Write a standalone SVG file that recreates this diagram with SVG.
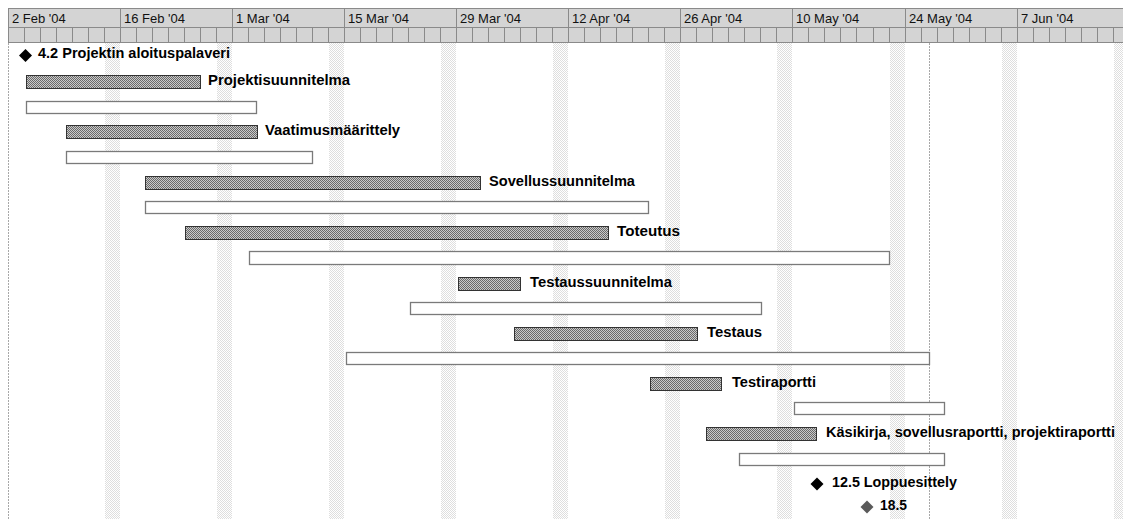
<svg xmlns="http://www.w3.org/2000/svg" width="1123" height="519" viewBox="0 0 1123 519">
<defs>
<pattern id="wk" width="2" height="2" patternUnits="userSpaceOnUse">
<rect width="2" height="2" fill="#ffffff"/>
<rect width="1" height="1" fill="#dedede"/>
<rect x="1" y="1" width="1" height="1" fill="#dedede"/>
</pattern>
<pattern id="hatch" width="2" height="2" patternUnits="userSpaceOnUse">
<rect width="2" height="2" fill="#cacaca"/>
<rect width="1" height="1" fill="#6a6a6a"/>
<rect x="1" y="1" width="1" height="1" fill="#6a6a6a"/>
</pattern>
</defs>
<style>
.hdr{fill:#d4d4d4;stroke:#8a8a8a;stroke-width:1}
.sep{stroke:#8a8a8a;stroke-width:1}
.ht{font-family:"Liberation Sans",Arial,sans-serif;font-size:13px;fill:#111}
.lbl{font-family:"Liberation Sans",Arial,sans-serif;font-size:14px;font-weight:bold;fill:#000}
.g{fill:url(#hatch);stroke:#333;stroke-width:1}
.w{fill:#fff;stroke:#7a7a7a;stroke-width:1.3}
.wk{fill:url(#wk)}
.dl{stroke:#a8a8a8;stroke-width:1;stroke-dasharray:2,1}
</style>
<rect width="1123" height="519" fill="#fff"/>
<g id="weekends">
<rect class="wk" x="105" y="43" width="15" height="476"/>
<rect class="wk" x="217" y="43" width="15" height="476"/>
<rect class="wk" x="329" y="43" width="15" height="476"/>
<rect class="wk" x="441" y="43" width="15" height="476"/>
<rect class="wk" x="553" y="43" width="15" height="476"/>
<rect class="wk" x="665" y="43" width="15" height="476"/>
<rect class="wk" x="777" y="43" width="15" height="476"/>
<rect class="wk" x="890" y="43" width="15" height="476"/>
<rect class="wk" x="1002" y="43" width="15" height="476"/>
<rect class="wk" x="1114" y="43" width="9" height="476"/>
<line class="dl" x1="8.5" y1="43" x2="8.5" y2="519"/>
<line class="dl" x1="929.5" y1="43" x2="929.5" y2="519"/>
</g>
<g id="timescale">
<rect class="hdr" x="8.5" y="8.5" width="1120" height="19"/>
<rect class="hdr" x="8.5" y="27.5" width="1120" height="15"/>
<g class="sep">
<line x1="120.5" y1="8" x2="120.5" y2="43"/>
<line x1="232.5" y1="8" x2="232.5" y2="43"/>
<line x1="344.5" y1="8" x2="344.5" y2="43"/>
<line x1="456.5" y1="8" x2="456.5" y2="43"/>
<line x1="568.5" y1="8" x2="568.5" y2="43"/>
<line x1="680.5" y1="8" x2="680.5" y2="43"/>
<line x1="792.5" y1="8" x2="792.5" y2="43"/>
<line x1="905.5" y1="8" x2="905.5" y2="43"/>
<line x1="1017.5" y1="8" x2="1017.5" y2="43"/>
<path d="M24.5 28V43M40.5 28V43M56.5 28V43M72.5 28V43M88.5 28V43M104.5 28V43M136.5 28V43M152.5 28V43M168.5 28V43M184.5 28V43M200.5 28V43M216.5 28V43M248.5 28V43M264.5 28V43M280.5 28V43M296.5 28V43M312.5 28V43M328.5 28V43M360.5 28V43M376.5 28V43M392.5 28V43M408.5 28V43M424.5 28V43M440.5 28V43M472.5 28V43M488.5 28V43M504.5 28V43M520.5 28V43M536.5 28V43M552.5 28V43M584.5 28V43M600.5 28V43M616.5 28V43M632.5 28V43M648.5 28V43M664.5 28V43M696.5 28V43M712.5 28V43M728.5 28V43M744.5 28V43M760.5 28V43M776.5 28V43M808.5 28V43M824.5 28V43M840.5 28V43M856.5 28V43M873.5 28V43M889.5 28V43M921.5 28V43M937.5 28V43M953.5 28V43M969.5 28V43M985.5 28V43M1001.5 28V43M1033.5 28V43M1049.5 28V43M1065.5 28V43M1081.5 28V43M1097.5 28V43M1113.5 28V43"/>
</g>
<text class="ht" x="12" y="23">2 Feb '04</text>
<text class="ht" x="124" y="23">16 Feb '04</text>
<text class="ht" x="236" y="23">1 Mar '04</text>
<text class="ht" x="348" y="23">15 Mar '04</text>
<text class="ht" x="460" y="23">29 Mar '04</text>
<text class="ht" x="572" y="23">12 Apr '04</text>
<text class="ht" x="684" y="23">26 Apr '04</text>
<text class="ht" x="796" y="23">10 May '04</text>
<text class="ht" x="909" y="23">24 May '04</text>
<text class="ht" x="1021" y="23">7 Jun '04</text>
</g>
<g id="m-aloituspalaveri">
<path d="M25.5 49L32 55.5L25.5 62L19 55.5Z" fill="#000"/>
<text class="lbl" x="38" y="58" textLength="192" lengthAdjust="spacingAndGlyphs">4.2 Projektin aloituspalaveri</text>
</g>
<g id="t-projektisuunnitelma">
<rect class="g" x="26.5" y="75.5" width="174" height="13"/>
<rect class="w" x="26.5" y="101.5" width="230" height="12"/>
<text class="lbl" x="208" y="85" textLength="142" lengthAdjust="spacingAndGlyphs">Projektisuunnitelma</text>
</g>
<g id="t-vaatimusmaarittely">
<rect class="g" x="66.5" y="125.5" width="191" height="13"/>
<rect class="w" x="66.5" y="151.5" width="246" height="12"/>
<text class="lbl" x="265" y="135" textLength="135" lengthAdjust="spacingAndGlyphs">Vaatimusmäärittely</text>
</g>
<g id="t-sovellussuunnitelma">
<rect class="g" x="145.5" y="176.5" width="335" height="13"/>
<rect class="w" x="145.5" y="201.5" width="503" height="12"/>
<text class="lbl" x="489" y="186" textLength="146" lengthAdjust="spacingAndGlyphs">Sovellussuunnitelma</text>
</g>
<g id="t-toteutus">
<rect class="g" x="185.5" y="226.5" width="423" height="13"/>
<rect class="w" x="249.5" y="251.5" width="640" height="13"/>
<text class="lbl" x="617" y="236" textLength="63" lengthAdjust="spacingAndGlyphs">Toteutus</text>
</g>
<g id="t-testaussuunnitelma">
<rect class="g" x="458.5" y="277.5" width="62" height="13"/>
<rect class="w" x="410.5" y="302.5" width="351" height="12"/>
<text class="lbl" x="530" y="287" textLength="142" lengthAdjust="spacingAndGlyphs">Testaussuunnitelma</text>
</g>
<g id="t-testaus">
<rect class="g" x="514.5" y="327.5" width="183" height="13"/>
<rect class="w" x="346.5" y="352.5" width="583" height="12"/>
<text class="lbl" x="707" y="337" textLength="55" lengthAdjust="spacingAndGlyphs">Testaus</text>
</g>
<g id="t-testiraportti">
<rect class="g" x="650.5" y="377.5" width="71" height="13"/>
<rect class="w" x="794.5" y="402.5" width="150" height="12"/>
<text class="lbl" x="732" y="387" textLength="84" lengthAdjust="spacingAndGlyphs">Testiraportti</text>
</g>
<g id="t-kasikirja">
<rect class="g" x="706.5" y="427.5" width="110" height="13"/>
<rect class="w" x="739.5" y="453.5" width="205" height="12"/>
<text class="lbl" x="826" y="437" textLength="289" lengthAdjust="spacingAndGlyphs">Käsikirja, sovellusraportti, projektiraportti</text>
</g>
<g id="m-loppuesittely">
<path d="M817 477.5L823.5 484L817 490.5L810.5 484Z" fill="#000"/>
<text class="lbl" x="832" y="487" textLength="125" lengthAdjust="spacingAndGlyphs">12.5 Loppuesittely</text>
</g>
<g id="m-18-5">
<path d="M867 500.5L873.5 507L867 513.5L860.5 507Z" fill="#5a5a5a"/>
<text class="lbl" x="880" y="510" textLength="27" lengthAdjust="spacingAndGlyphs">18.5</text>
</g>
</svg>
